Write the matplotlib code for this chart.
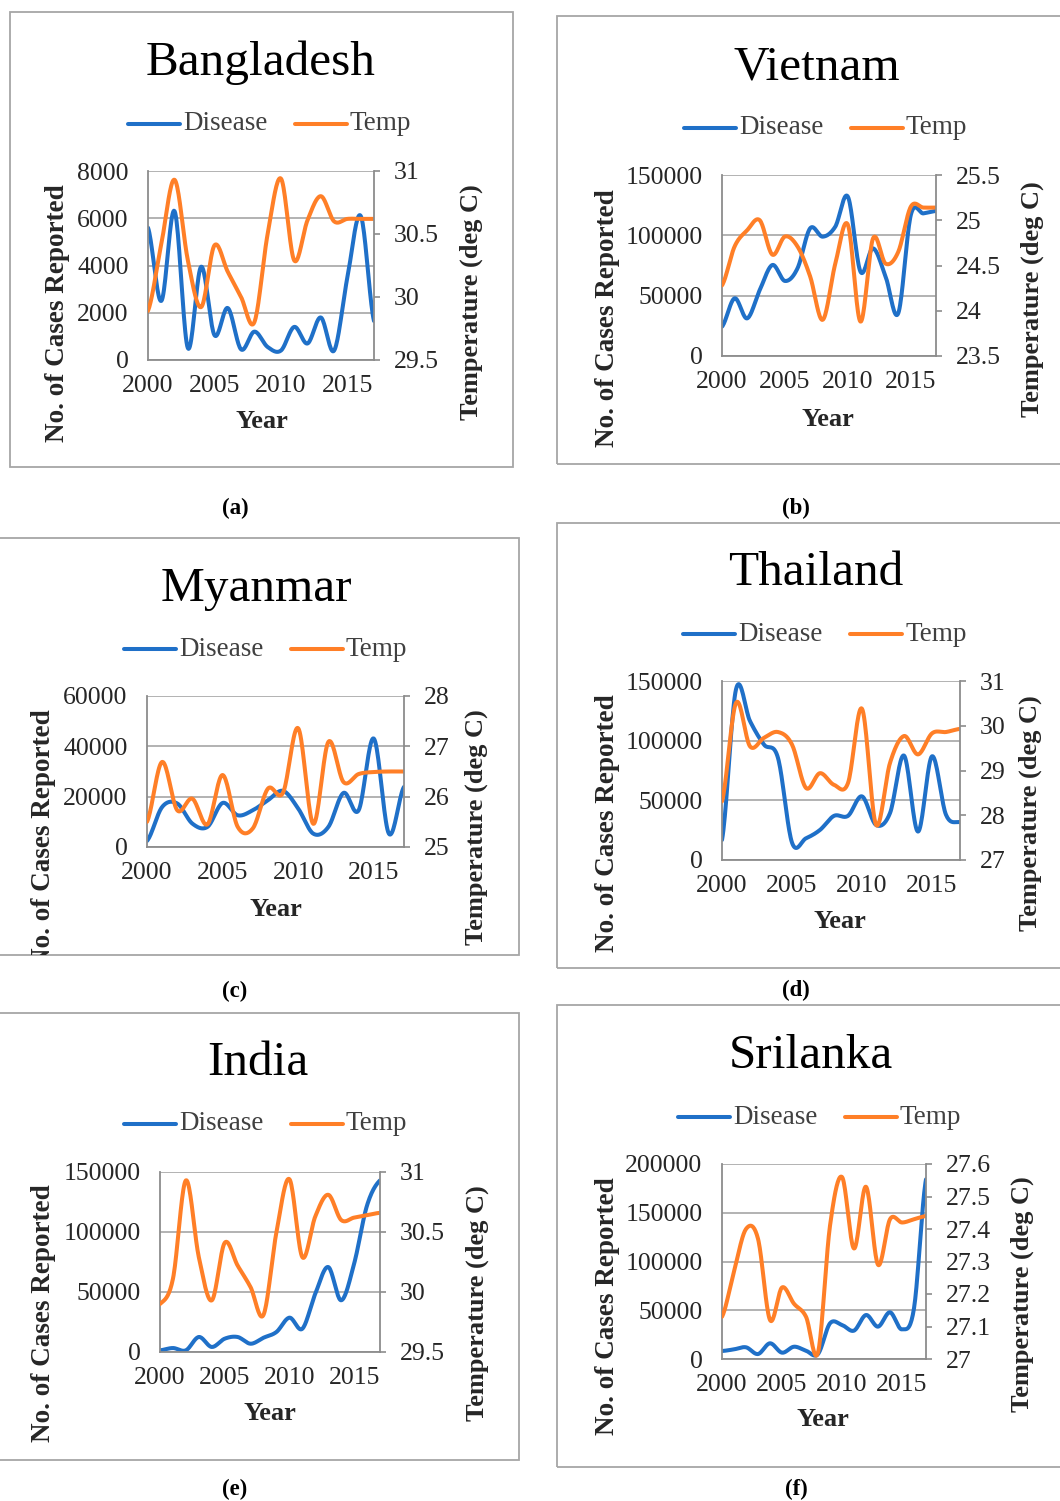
import numpy as np
import matplotlib
matplotlib.use('Agg')
import matplotlib.pyplot as plt
from matplotlib.lines import Line2D
from matplotlib.patches import Rectangle
from matplotlib.ticker import FuncFormatter

# ---- data (yearly values 2000-2017) ----
years = list(range(2000, 2018))
year_ticks = [2000, 2005, 2010, 2015]

bangladesh_cases = [5600, 2500, 6300, 500, 3950, 1050, 2200, 450, 1200, 550,
                    400, 1400, 700, 1800, 400, 3500, 6100, 1650]
bangladesh_temp = [29.89, 30.42, 30.93, 30.29, 29.92, 30.41, 30.20, 30.00, 29.80, 30.50,
                   30.94, 30.29, 30.61, 30.80, 30.60, 30.62, 30.62, 30.62]

vietnam_cases = [24300, 47800, 31200, 54700, 75400, 62200, 72700, 105800, 98900, 107200,
                 132000, 69900, 89200, 65700, 35400, 116900, 118200, 120200]
vietnam_temp = [24.28, 24.71, 24.89, 25.00, 24.62, 24.82, 24.71, 24.38, 23.90, 24.52,
                24.95, 23.88, 24.80, 24.52, 24.65, 25.15, 25.14, 25.14]

myanmar_cases = [2400, 15900, 17300, 9300, 8000, 17500, 12600, 14600, 18600, 22300,
                 15300, 5300, 8000, 21500, 14600, 43100, 5300, 23900]
myanmar_temp = [25.50, 26.69, 25.73, 25.96, 25.45, 26.43, 25.40, 25.37, 26.16, 26.08,
                27.36, 25.46, 27.09, 26.29, 26.45, 26.49, 26.50, 26.50]

thailand_cases = [16800, 143000, 116400, 96700, 85500, 14600, 18200, 25200, 37000, 37000,
                  53300, 29400, 39300, 87500, 23800, 86900, 37900, 31700]
thailand_temp = [28.31, 30.51, 29.54, 29.73, 29.86, 29.58, 28.61, 28.94, 28.68, 28.72,
                 30.38, 27.79, 29.17, 29.77, 29.36, 29.83, 29.86, 29.93]

india_cases = [1400, 3300, 1400, 12500, 4200, 11100, 12500, 6900, 11900, 16700,
               28600, 19400, 48600, 70800, 43100, 73600, 122200, 143000]
india_temp = [29.90, 30.11, 30.93, 30.29, 29.93, 30.41, 30.22, 30.04, 29.81, 30.50,
              30.94, 30.29, 30.63, 30.81, 30.60, 30.62, 30.64, 30.66]

srilanka_cases = [8200, 9900, 12000, 5100, 16100, 6500, 12600, 8500, 5100, 36600,
                  34900, 29100, 45100, 33200, 47900, 30400, 52000, 184300]
srilanka_temp = [27.13, 27.27, 27.40, 27.37, 27.12, 27.22, 27.17, 27.13, 27.02, 27.41,
                 27.56, 27.34, 27.53, 27.29, 27.43, 27.42, 27.43, 27.44]

# ---- layout in reference pixels ----
W, H = 1060, 1501
BLUE = '#1f70c8'
ORANGE = '#ff7f27'
GRID = '#a6a6a6'
SPINE = '#8c8c8c'
TXT = '#262626'
TICK_SIZE = 18.5

plt.rcParams['font.family'] = ['Liberation Serif', 'DejaVu Serif']

panels = [
    dict(name='Bangladesh', tag='(a)', cases=bangladesh_cases, temp=bangladesh_temp,
         box=(10, 12, 513, 467), plot=(148, 171, 374, 360),
         lticks=[0, 2000, 4000, 6000, 8000], rticks=[29.5, 30, 30.5, 31],
         title=(261, 63), legend=(128, 124), ylab=(58, 313), rlab=(471, 302),
         xlab=(262, 422), tagpos=(235, 508)),
    dict(name='Vietnam', tag='(b)', cases=vietnam_cases, temp=vietnam_temp,
         box=(557, 16, 1070, 464), plot=(722, 175, 936, 356),
         lticks=[0, 50000, 100000, 150000], rticks=[23.5, 24, 24.5, 25, 25.5],
         title=(817, 67), legend=(684, 128), ylab=(607, 318), rlab=(1032, 299),
         xlab=(828, 419), tagpos=(796, 508)),
    dict(name='Myanmar', tag='(c)', cases=myanmar_cases, temp=myanmar_temp,
         box=(-10, 538, 519, 955), plot=(147, 696, 404, 847),
         lticks=[0, 20000, 40000, 60000], rticks=[25, 26, 27, 28],
         title=(256, 589), legend=(124, 649), ylab=(44, 838), rlab=(476, 827),
         xlab=(276, 909), tagpos=(235, 991)),
    dict(name='Thailand', tag='(d)', cases=thailand_cases, temp=thailand_temp,
         box=(557, 523, 1070, 968), plot=(722, 681, 960, 860),
         lticks=[0, 50000, 100000, 150000], rticks=[27, 28, 29, 30, 31],
         title=(816, 573), legend=(683, 634), ylab=(607, 823), rlab=(1030, 813),
         xlab=(840, 922), tagpos=(796, 990)),
    dict(name='India', tag='(e)', cases=india_cases, temp=india_temp,
         box=(-10, 1013, 519, 1460), plot=(160, 1172, 380, 1352),
         lticks=[0, 50000, 100000, 150000], rticks=[29.5, 30, 30.5, 31],
         title=(258, 1063), legend=(124, 1124), ylab=(44, 1313), rlab=(477, 1303),
         xlab=(270, 1414), tagpos=(235, 1489)),
    dict(name='Srilanka', tag='(f)', cases=srilanka_cases, temp=srilanka_temp,
         box=(557, 1005, 1070, 1467), plot=(722, 1164, 926, 1359),
         lticks=[0, 50000, 100000, 150000, 200000],
         rticks=[27, 27.1, 27.2, 27.3, 27.4, 27.5, 27.6],
         title=(811, 1056), legend=(678, 1117), ylab=(607, 1306), rlab=(1022, 1294),
         xlab=(823, 1420), tagpos=(796, 1489)),
]


def fx(x):
    return x / W


def fy(y):
    return 1 - y / H


def smooth(x, y, n=20):
    # Catmull-Rom curve through the points, like a spreadsheet "smoothed line"
    x = np.asarray(x, float)
    y = np.asarray(y, float)
    xs, ys = [], []
    for i in range(len(x) - 1):
        y0 = y[i - 1] if i > 0 else y[i]
        y3 = y[i + 2] if i + 2 < len(y) else y[i + 1]
        m1 = (y[i + 1] - y0) / 2
        m2 = (y3 - y[i]) / 2
        t = np.linspace(0, 1, n, endpoint=False)
        h00 = 2 * t**3 - 3 * t**2 + 1
        h10 = t**3 - 2 * t**2 + t
        h01 = -2 * t**3 + 3 * t**2
        h11 = t**3 - t**2
        xs.append(x[i] + t * (x[i + 1] - x[i]))
        ys.append(h00 * y[i] + h10 * m1 + h01 * y[i + 1] + h11 * m2)
    xs.append([x[-1]])
    ys.append([y[-1]])
    return np.concatenate(xs), np.concatenate(ys)


fig = plt.figure(figsize=(W / 100, H / 100), dpi=100)
fmt = FuncFormatter(lambda v, p: '%g' % round(v, 2))

for p in panels:
    x0, y0, x1, y1 = p['box']
    frame = Rectangle((fx(x0), fy(y1)), (x1 - x0) / W, (y1 - y0) / H,
                      transform=fig.transFigure, fill=False, ec='#a6a6a6', lw=1.3)
    fig.add_artist(frame)

    l, t, r, b = p['plot']
    ax = fig.add_axes([fx(l), fy(b), (r - l) / W, (b - t) / H])
    ax.set_xlim(years[0], years[-1])
    ax.set_ylim(p['lticks'][0], p['lticks'][-1])
    ax.set_xticks(year_ticks)
    ax.set_yticks(p['lticks'])
    ax.grid(axis='y', color=GRID, lw=1.2)
    ax.set_axisbelow(True)
    ax.tick_params(axis='x', length=0, pad=11, labelsize=TICK_SIZE, labelcolor=TXT)
    ax.tick_params(axis='y', length=0, pad=14, labelsize=TICK_SIZE, labelcolor=TXT)
    ax.spines['top'].set_visible(False)
    ax.spines['right'].set_visible(False)
    for s in ['left', 'bottom']:
        ax.spines[s].set_color(SPINE)
        ax.spines[s].set_linewidth(1.3)
    xs, ys = smooth(years, p['cases'])
    ax.plot(xs, ys, color=BLUE, lw=2.9, solid_capstyle='round')

    ax2 = ax.twinx()
    ax2.set_ylim(p['rticks'][0], p['rticks'][-1])
    ax2.set_yticks(p['rticks'])
    ax2.yaxis.set_major_formatter(fmt)
    ax2.tick_params(axis='y', length=4.5, width=1.2, color=SPINE, pad=10,
                    labelsize=TICK_SIZE, labelcolor=TXT)
    for s in ['top', 'left', 'bottom']:
        ax2.spines[s].set_visible(False)
    ax2.spines['right'].set_color(SPINE)
    ax2.spines['right'].set_linewidth(1.3)
    xs, ys = smooth(years, p['temp'])
    ax2.plot(xs, ys, color=ORANGE, lw=2.9, solid_capstyle='round')

    texts = []
    tx, ty = p['title']
    texts.append(fig.text(fx(tx), fy(ty), p['name'], fontsize=35.5,
                          color='black', ha='center', va='center'))

    lx, ly = p['legend']
    for dx, col, lab in [(0, BLUE, 'Disease'), (167, ORANGE, 'Temp')]:
        fig.add_artist(Line2D([fx(lx + dx), fx(lx + dx + 52)], [fy(ly), fy(ly)],
                              transform=fig.transFigure, color=col, lw=2.9,
                              solid_capstyle='round'))
        texts.append(fig.text(fx(lx + dx + 55), fy(ly), lab, fontsize=19.5,
                              color='#404040', ha='left', va='center'))

    texts.append(fig.text(fx(p['ylab'][0]), fy(p['ylab'][1]), 'No. of Cases Reported',
                          rotation=90, fontsize=19.5, fontweight='bold',
                          color=TXT, ha='center', va='center'))
    texts.append(fig.text(fx(p['rlab'][0]), fy(p['rlab'][1]), 'Temperature (deg C)',
                          rotation=90, fontsize=19, fontweight='bold',
                          color=TXT, ha='center', va='center'))
    texts.append(fig.text(fx(p['xlab'][0]), fy(p['xlab'][1]), 'Year',
                          fontsize=19, fontweight='bold',
                          color=TXT, ha='center', va='center'))
    for tobj in texts:
        tobj.set_clip_path(frame)

    fig.text(fx(p['tagpos'][0]), fy(p['tagpos'][1]), p['tag'], fontsize=16.5,
             fontweight='bold', ha='center', va='center')

fig.savefig('out.png', dpi=100)
